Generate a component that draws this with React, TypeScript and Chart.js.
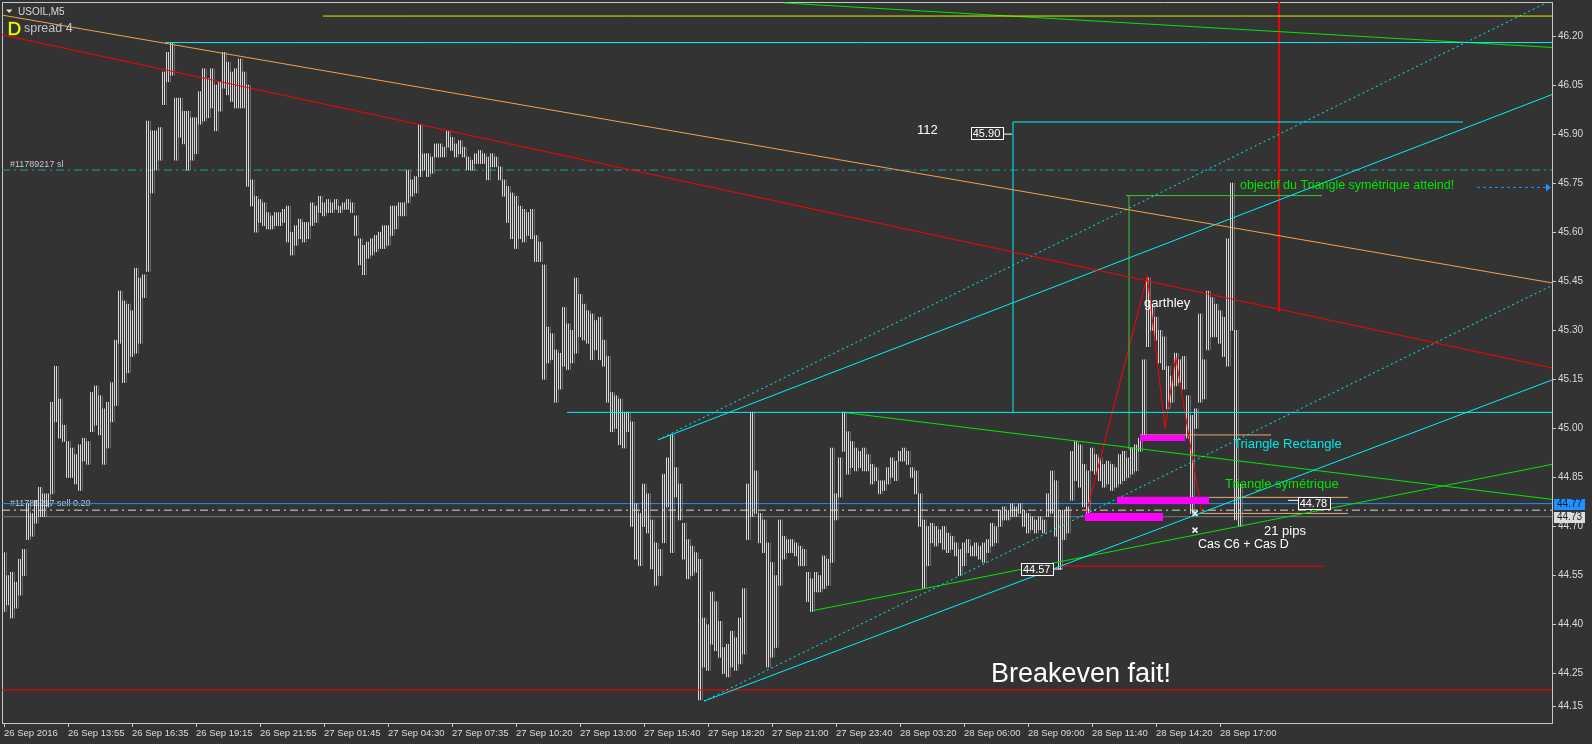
import React, { useEffect, useRef } from 'react';
import { Chart, registerables } from 'chart.js';

Chart.register(...registerables);

const FONT = "'Liberation Sans', Arial, sans-serif";

// x axis: 5-minute bar index; one entry of the bar arrays = 2 bars
const xTickBars = [0, 32, 64, 96, 128, 160, 192, 224, 256, 288, 320, 352, 384, 416, 448, 480, 512, 544, 576, 608];
const xTickLabels = [
  '26 Sep 2016', '26 Sep 13:55', '26 Sep 16:35', '26 Sep 19:15', '26 Sep 21:55',
  '27 Sep 01:45', '27 Sep 04:30', '27 Sep 07:35', '27 Sep 10:20', '27 Sep 13:00',
  '27 Sep 15:40', '27 Sep 18:20', '27 Sep 21:00', '27 Sep 23:40', '28 Sep 03:20',
  '28 Sep 06:00', '28 Sep 09:00', '28 Sep 11:40', '28 Sep 14:20', '28 Sep 17:00',
];
const yTickValues = [46.2, 46.05, 45.9, 45.75, 45.6, 45.45, 45.3, 45.15, 45.0, 44.85, 44.7, 44.55, 44.4, 44.25, 44.15];

const barHigh = [
  44.62, 44.55, 44.56, 44.53, 44.60, 44.63, 44.77, 44.74, 44.78, 44.82,
  44.80, 44.80, 45.08, 45.19, 45.09, 45.01, 44.96, 44.94, 44.92, 44.95,
  44.97, 44.96, 45.11, 45.13, 45.10, 45.06, 45.08, 45.14, 45.27, 45.42,
  45.39, 45.38, 45.36, 45.49, 45.46, 45.47, 45.94, 45.91, 45.91, 45.92,
  46.09, 46.15, 46.18, 46.01, 46.01, 45.97, 45.97, 45.95, 45.95, 46.03,
  46.10, 46.07, 46.10, 46.05, 46.06, 46.15, 46.12, 46.09, 46.10, 46.13,
  46.09, 46.05, 45.76, 45.71, 45.70, 45.69, 45.66, 45.65, 45.66, 45.66,
  45.67, 45.68, 45.60, 45.62, 45.64, 45.63, 45.63, 45.69, 45.68, 45.71,
  45.69, 45.70, 45.69, 45.70, 45.68, 45.69, 45.70, 45.69, 45.65, 45.58,
  45.56, 45.57, 45.58, 45.59, 45.60, 45.62, 45.62, 45.68, 45.68, 45.69,
  45.69, 45.79, 45.76, 45.77, 45.93, 45.84, 45.84, 45.83, 45.87, 45.87,
  45.86, 45.91, 45.89, 45.87, 45.88, 45.86, 45.83, 45.82, 45.84, 45.85,
  45.84, 45.83, 45.84, 45.83, 45.80, 45.76, 45.74, 45.72, 45.71, 45.68,
  45.67, 45.66, 45.67, 45.59, 45.57, 45.50, 45.31, 45.29, 45.24, 45.23,
  45.37, 45.32, 45.30, 45.46, 45.41, 45.38, 45.36, 45.35, 45.33, 45.34,
  45.27, 45.22, 45.11, 45.10, 45.09, 45.05, 45.05, 45.02, 44.77, 44.74,
  44.83, 44.80, 44.72, 44.65, 44.63, 44.86, 44.91, 44.98, 44.88, 44.83,
  44.71, 44.66, 44.64, 44.62, 44.60, 44.42, 44.40, 44.50, 44.47, 44.41,
  44.33, 44.34, 44.38, 44.36, 44.42, 44.51, 44.83, 45.05, 44.87, 44.74,
  44.72, 44.65, 44.59, 44.55, 44.72, 44.67, 44.66, 44.66, 44.65, 44.64,
  44.63, 44.56, 44.54, 44.56, 44.55, 44.61, 44.60, 44.94, 44.80, 44.91,
  45.05, 44.99, 44.96, 44.94, 44.93, 44.94, 44.92, 44.89, 44.88, 44.84,
  44.84, 44.88, 44.91, 44.90, 44.93, 44.94, 44.93, 44.88, 44.87, 44.80,
  44.72, 44.70, 44.71, 44.70, 44.69, 44.70, 44.68, 44.67, 44.65, 44.63,
  44.65, 44.66, 44.64, 44.65, 44.64, 44.65, 44.66, 44.71, 44.70, 44.75,
  44.76, 44.75, 44.77, 44.76, 44.77, 44.75, 44.74, 44.73, 44.72, 44.73,
  44.72, 44.80, 44.87, 44.84, 44.75, 44.75, 44.76, 44.93, 44.96, 44.95,
  44.89, 44.87, 44.94, 44.92, 44.91, 44.89, 44.90, 44.89, 44.88, 44.92,
  44.93, 44.91, 44.94, 44.95, 44.97, 45.21, 45.46, 45.38, 45.34, 45.30,
  45.28, 45.19, 45.16, 45.23, 45.21, 45.22, 45.10, 45.04, 45.06, 45.35,
  45.21, 45.42, 45.40, 45.38, 45.36, 45.34, 45.58, 45.75, 45.30, 44.83,
];
const barLow = [
  44.44, 44.46, 44.42, 44.45, 44.49, 44.55, 44.66, 44.67, 44.71, 44.73,
  44.73, 44.76, 44.80, 45.02, 44.97, 44.96, 44.85, 44.85, 44.83, 44.81,
  44.90, 44.89, 44.99, 45.01, 44.98, 44.89, 44.94, 45.02, 45.07, 45.26,
  45.14, 45.17, 45.22, 45.23, 45.26, 45.40, 45.48, 45.72, 45.79, 45.82,
  45.99, 46.06, 46.08, 45.82, 45.89, 45.87, 45.79, 45.82, 45.84, 45.93,
  45.94, 45.95, 45.98, 45.91, 45.97, 46.04, 46.02, 46.00, 45.98, 45.98,
  45.98, 45.74, 45.68, 45.60, 45.63, 45.62, 45.61, 45.61, 45.62, 45.62,
  45.63, 45.57, 45.53, 45.56, 45.58, 45.57, 45.58, 45.62, 45.63, 45.66,
  45.65, 45.66, 45.66, 45.67, 45.66, 45.67, 45.67, 45.66, 45.59, 45.50,
  45.47, 45.52, 45.53, 45.54, 45.55, 45.55, 45.56, 45.59, 45.61, 45.65,
  45.65, 45.69, 45.71, 45.72, 45.77, 45.79, 45.77, 45.78, 45.83, 45.83,
  45.83, 45.86, 45.85, 45.83, 45.84, 45.83, 45.79, 45.79, 45.81, 45.81,
  45.81, 45.76, 45.80, 45.80, 45.76, 45.71, 45.63, 45.58, 45.55, 45.58,
  45.57, 45.59, 45.58, 45.51, 45.51, 45.15, 45.20, 45.21, 45.08, 45.12,
  45.19, 45.18, 45.20, 45.23, 45.28, 45.27, 45.26, 45.21, 45.24, 45.21,
  45.19, 45.08, 44.99, 45.00, 44.95, 44.94, 44.99, 44.70, 44.60, 44.58,
  44.70, 44.68, 44.57, 44.52, 44.55, 44.65, 44.76, 44.62, 44.79, 44.72,
  44.60, 44.54, 44.55, 44.56, 44.17, 44.27, 44.26, 44.34, 44.32, 44.30,
  44.25, 44.24, 44.27, 44.26, 44.28, 44.31, 44.66, 44.73, 44.74, 44.65,
  44.62, 44.27, 44.30, 44.33, 44.52, 44.60, 44.62, 44.62, 44.61, 44.58,
  44.58, 44.47, 44.44, 44.50, 44.50, 44.51, 44.52, 44.59, 44.72, 44.79,
  44.93, 44.86, 44.88, 44.87, 44.88, 44.87, 44.87, 44.83, 44.84, 44.80,
  44.81, 44.83, 44.85, 44.84, 44.90, 44.90, 44.89, 44.85, 44.80, 44.70,
  44.51, 44.58, 44.65, 44.64, 44.65, 44.63, 44.62, 44.63, 44.61, 44.55,
  44.58, 44.62, 44.61, 44.61, 44.60, 44.59, 44.62, 44.64, 44.65, 44.70,
  44.72, 44.72, 44.73, 44.73, 44.74, 44.70, 44.68, 44.69, 44.68, 44.69,
  44.68, 44.73, 44.74, 44.67, 44.57, 44.66, 44.68, 44.78, 44.84, 44.82,
  44.76, 44.74, 44.87, 44.86, 44.84, 44.82, 44.83, 44.81, 44.82, 44.83,
  44.84, 44.85, 44.86, 44.87, 44.93, 44.97, 45.25, 45.30, 45.27, 45.20,
  45.18, 45.06, 45.08, 45.13, 45.14, 45.12, 44.97, 44.74, 45.00, 45.08,
  45.09, 45.24, 45.28, 45.28, 45.26, 45.22, 45.19, 45.30, 44.72, 44.70,
];
const BARS_PER_ENTRY = 2;

// chart objects: [bar index, price] points
const objectLines: { style: string; back?: boolean; pts: [number, number][] }[] = [
  { style: 'teal', back: true, pts: [[-1, 45.79], [774, 45.79]] },
  { style: 'blue', back: true, pts: [[-1, 44.77], [774, 44.77]] },
  { style: 'dashdot', back: true, pts: [[-1, 44.75], [774, 44.75]] },
  { style: 'grey', back: true, pts: [[-1, 44.73], [774, 44.73]] },
  { style: 'orange', pts: [[-2, 46.265], [774, 45.445]] },
  { style: 'red', pts: [[-2, 46.205], [774, 45.185]] },
  { style: 'cyan', pts: [[80.5, 46.18], [774, 46.18]] },
  { style: 'yellow', pts: [[159.5, 46.261], [774, 46.261]] },
  { style: 'lime', pts: [[390, 46.301], [774, 46.165]] },
  { style: 'cyan', pts: [[327, 44.965], [774, 46.021]] },
  { style: 'cyanDot', pts: [[327, 44.965], [774, 46.31]] },
  { style: 'cyanDot', pts: [[350, 44.166], [774, 45.437]] },
  { style: 'cyan', pts: [[350, 44.166], [774, 45.148]] },
  { style: 'cyan', pts: [[281.5, 45.049], [774, 45.049]] },
  { style: 'cyan', pts: [[504.5, 45.049], [504.5, 45.937], [729.5, 45.937]] },
  { style: 'boxGreen', pts: [[562.5, 44.934], [562.5, 45.712]] },
  { style: 'boxGreen', pts: [[561, 45.712], [659, 45.712]] },
  { style: 'lime', pts: [[419.5, 45.049], [774, 44.783]] },
  { style: 'lime', pts: [[404.65, 44.443], [774, 44.89]] },
  { style: 'red', pts: [[637.5, 46.31], [637.5, 45.357]] },
  { style: 'red', pts: [[-1, 44.2], [774, 44.2]] },
  { style: 'red', pts: [[528, 44.579], [659.5, 44.579]] },
  { style: 'red', pts: [[541.35, 44.745], [571.65, 45.466], [580.5, 45.0], [585.85, 45.219], [598.85, 44.74]] },
  { style: 'tan', pts: [[568, 44.98], [633.5, 44.98]] },
  { style: 'tan', pts: [[556.5, 44.789], [672, 44.789]] },
  { style: 'tan', pts: [[598, 44.74], [672, 44.74]] },
  { style: 'blueDot', pts: [[736.5, 45.737], [771, 45.737]] },
  { style: 'white', pts: [[498.5, 45.9], [504, 45.9]] },
  { style: 'white', pts: [[524, 44.57], [529, 44.57]] },
  { style: 'white', pts: [[642, 44.78], [647.5, 44.78]] },
];

const lineStyles: Record<string, { color: string; dash?: number[] }> = {
  teal: { color: '#1a9c9c', dash: [8, 4, 2, 4] },
  blue: { color: '#1e90ff' },
  dashdot: { color: '#d8d8d8', dash: [8, 4, 2, 4] },
  grey: { color: '#7a7a7a' },
  orange: { color: '#f4a050' },
  red: { color: '#ff0000' },
  cyan: { color: '#00f0f8' },
  cyanDot: { color: '#00f0f8', dash: [2, 3] },
  yellow: { color: '#e6e600' },
  lime: { color: '#00e600' },
  boxGreen: { color: '#32cd32' },
  tan: { color: '#e8a878' },
  blueDot: { color: '#1e90ff', dash: [3, 3] },
  white: { color: '#ffffff' },
};

// magenta zones: [bar from, bar to, price low, price high]
const magentaZones: [number, number, number, number][] = [
  [568, 590.5, 44.96, 44.98],
  [556.65, 602.65, 44.769, 44.789],
  [540.65, 579.65, 44.718, 44.74],
];

// text notes: [text, bar, price, colour key, size]
const noteTexts: [string, number, number, string, number][] = [
  ['112', 456.5, 45.9125, 'white', 13],
  ['objectif du Triangle symétrique atteind!', 618, 45.743, 'lime', 12.5],
  ['garthley', 570, 45.382, 'white', 13],
  ['Triangle Rectangle', 614.5, 44.952, 'cyan', 13],
  ['Triangle symétrique', 610.5, 44.828, 'lime', 13],
  ['21 pips', 630, 44.686, 'white', 13],
  ['Cas C6 + Cas D', 597, 44.644, 'white', 12.5],
  ['Breakeven fait!', 493.5, 44.248, 'white', 27],
];
const tradeTexts: [string, number, number][] = [
  ['#11789217 sl', 3, 45.806],
  ['#11789217 sell 0.20', 3, 44.769],
];
// boxed price labels: [text, centre bar, centre price]
const boxedLabels: [string, number, number][] = [
  ['45.90', 491.25, 45.903],
  ['44.57', 516.35, 44.57],
  ['44.78', 654.7, 44.773],
];
const crossMarks: [number, number][] = [[595.5, 44.74], [595.5, 44.689]];
const axisPriceTags: [string, number, string, string][] = [
  ['44.77', 44.77, '#1e90ff', '#0b1c30'],
  ['44.73', 44.73, '#dcdcdc', '#202020'],
];

const noteColors: Record<string, string> = { white: '#ffffff', lime: '#00e600', cyan: '#00e8f0' };

const overlayPlugin = {
  id: 'mt4overlay',
  beforeDatasetsDraw(chart: any) {
    const { ctx, chartArea: a, scales } = chart;
    ctx.save();
    ctx.strokeStyle = '#c8c8c8';
    ctx.lineWidth = 1;
    ctx.beginPath();
    ctx.moveTo(a.left + 0.5, a.bottom);
    ctx.lineTo(a.left + 0.5, a.top + 0.5);
    ctx.lineTo(a.right, a.top + 0.5);
    ctx.stroke();
    ctx.font = `9px ${FONT}`;
    ctx.fillStyle = '#c4c8cc';
    ctx.textBaseline = 'middle';
    ctx.textAlign = 'left';
    tradeTexts.forEach(([t, b, p]) => {
      ctx.fillText(t, scales.x.getPixelForValue(b), scales.y.getPixelForValue(p));
    });
    ctx.restore();
  },
  afterDatasetsDraw(chart: any) {
    const { ctx, chartArea: a, scales } = chart;
    const X = (b: number) => scales.x.getPixelForValue(b);
    const Y = (p: number) => scales.y.getPixelForValue(p);
    ctx.save();
    ctx.beginPath();
    ctx.rect(a.left, a.top, a.right - a.left, a.bottom - a.top);
    ctx.clip();
    // magenta zones
    ctx.fillStyle = '#ff00ff';
    magentaZones.forEach(([b1, b2, p1, p2]) => {
      const x1 = Math.round(X(b1));
      const x2 = Math.round(X(b2));
      const y1 = Math.round(Y(p2));
      const y2 = Math.round(Y(p1));
      ctx.fillRect(x1, y1, x2 - x1, y2 - y1);
    });
    // notes
    ctx.textAlign = 'left';
    ctx.textBaseline = 'middle';
    noteTexts.forEach(([t, b, p, c, s]) => {
      ctx.font = `${s}px ${FONT}`;
      ctx.fillStyle = noteColors[c];
      ctx.fillText(t, X(b), Y(p));
    });
    // boxed labels
    ctx.font = `11px ${FONT}`;
    ctx.textAlign = 'center';
    boxedLabels.forEach(([t, b, p]) => {
      const cx = X(b);
      const cy = Y(p);
      const w = ctx.measureText(t).width + 4;
      ctx.fillStyle = '#333333';
      ctx.fillRect(Math.round(cx - w / 2), Math.round(cy - 6), Math.round(w), 12);
      ctx.strokeStyle = '#ffffff';
      ctx.lineWidth = 1;
      ctx.strokeRect(Math.round(cx - w / 2) + 0.5, Math.round(cy - 6) + 0.5, Math.round(w), 12);
      ctx.fillStyle = '#ffffff';
      ctx.fillText(t, cx, cy + 1);
    });
    // crosses
    ctx.strokeStyle = '#f0f0f0';
    ctx.lineWidth = 1.6;
    crossMarks.forEach(([b, p]) => {
      const cx = X(b);
      const cy = Y(p);
      ctx.beginPath();
      ctx.moveTo(cx - 2.5, cy - 2.5);
      ctx.lineTo(cx + 2.5, cy + 2.5);
      ctx.moveTo(cx + 2.5, cy - 2.5);
      ctx.lineTo(cx - 2.5, cy + 2.5);
      ctx.stroke();
    });
    // arrow head of dotted blue line
    const ay = Y(45.737);
    const ax = X(771);
    ctx.fillStyle = '#1e90ff';
    ctx.beginPath();
    ctx.moveTo(ax, ay - 4);
    ctx.lineTo(ax + 5, ay);
    ctx.lineTo(ax, ay + 4);
    ctx.closePath();
    ctx.fill();
    ctx.restore();

    // window header texts
    ctx.save();
    ctx.fillStyle = '#e0e0e0';
    ctx.beginPath();
    ctx.moveTo(6, 9.5);
    ctx.lineTo(12.5, 9.5);
    ctx.lineTo(9.25, 13);
    ctx.closePath();
    ctx.fill();
    ctx.font = `10px ${FONT}`;
    ctx.textBaseline = 'alphabetic';
    ctx.textAlign = 'left';
    ctx.fillStyle = '#dcdcdc';
    ctx.fillText('USOIL,M5', 18, 14.5);
    ctx.font = `19px ${FONT}`;
    ctx.lineWidth = 1;
    ctx.strokeStyle = '#5a8a00';
    ctx.strokeText('D', 7.5, 34.5);
    ctx.fillStyle = '#ffff00';
    ctx.fillText('D', 7.5, 34.5);
    ctx.font = `12.5px ${FONT}`;
    ctx.fillStyle = '#bfc4cc';
    ctx.fillText('spread 4', 24, 32);
    ctx.restore();
  },
  afterDraw(chart: any) {
    const { ctx, chartArea: a, scales } = chart;
    ctx.save();
    ctx.font = `10px ${FONT}`;
    ctx.textBaseline = 'middle';
    ctx.textAlign = 'left';
    axisPriceTags.forEach(([t, p, bg, fg]) => {
      const cy = Math.round(scales.y.getPixelForValue(p));
      ctx.fillStyle = bg;
      ctx.fillRect(a.right + 2, cy - 5, 31, 11);
      ctx.fillStyle = fg;
      ctx.fillText(t, a.right + 5, cy + 0.5);
    });
    ctx.restore();
  },
};

export default function App() {
  const ref = useRef<HTMLCanvasElement | null>(null);
  useEffect(() => {
    if (!ref.current) return;
    // vertical hatching: 1px light line every 2px, like MT4 bar charts
    const pc = document.createElement('canvas');
    pc.width = 2;
    pc.height = 1;
    const pctx = pc.getContext('2d')!;
    pctx.fillStyle = '#d8d8d8';
    pctx.fillRect(0, 0, 1, 1);
    const hatch = ref.current.getContext('2d')!.createPattern(pc, 'repeat');

    const barData = barHigh.map((h, k) => ({ x: k * BARS_PER_ENTRY, y: [barLow[k], h] }));
    const lineSets = objectLines.map((l) => {
      const st = lineStyles[l.style];
      return {
        type: 'line' as const,
        data: l.pts.map(([x, y]) => ({ x, y })),
        borderColor: st.color,
        borderWidth: 1,
        borderDash: st.dash || [],
        pointRadius: 0,
        pointHoverRadius: 0,
        fill: false,
        tension: 0,
        order: l.back ? 10 : 1,
      };
    });
    const chart = new Chart(ref.current, {
      type: 'bar',
      data: {
        datasets: [
          {
            type: 'bar',
            data: barData as any,
            backgroundColor: hatch,
            borderWidth: 0,
            barThickness: 4,
            order: 5,
          } as any,
          ...(lineSets as any[]),
        ],
      },
      options: {
        animation: false,
        responsive: false,
        devicePixelRatio: 1,
        events: [],
        layout: { padding: { left: 2, top: 2, right: 0, bottom: 0 } },
        plugins: { legend: { display: false }, tooltip: { enabled: false } },
        scales: {
          x: {
            type: 'linear',
            position: 'bottom',
            min: -1,
            max: 774,
            offset: false,
            bounds: 'data',
            grid: { display: true, drawOnChartArea: false, drawTicks: true, tickLength: 4, color: '#c8c8c8', offset: false },
            border: { display: true, color: '#c8c8c8', width: 1 },
            ticks: {
              autoSkip: false,
              maxRotation: 0,
              minRotation: 0,
              align: 'start',
              padding: 1,
              color: '#dcdcdc',
              font: { family: FONT, size: 9.5 },
              callback: (_v: any, i: number) => xTickLabels[i] ?? '',
            },
            afterBuildTicks: (s: any) => {
              s.ticks = xTickBars.map((v) => ({ value: v }));
            },
            afterFit: (s: any) => {
              s.height = 21;
              s.paddingLeft = 0;
              s.paddingRight = 0;
              s.paddingTop = 0;
              s.paddingBottom = 0;
            },
          } as any,
          y: {
            type: 'linear',
            position: 'right',
            min: 44.0991,
            max: 46.304,
            beginAtZero: false,
            bounds: 'data',
            grid: { display: true, drawOnChartArea: false, drawTicks: true, tickLength: 4, color: '#c8c8c8' },
            border: { display: true, color: '#c8c8c8', width: 1 },
            ticks: {
              padding: 2,
              color: '#dcdcdc',
              font: { family: FONT, size: 10 },
              callback: (v: any) => Number(v).toFixed(2),
            },
            afterBuildTicks: (s: any) => {
              s.ticks = yTickValues.map((v) => ({ value: v }));
            },
            afterFit: (s: any) => {
              s.width = 40;
              s.paddingLeft = 0;
              s.paddingRight = 0;
              s.paddingTop = 0;
              s.paddingBottom = 0;
            },
          } as any,
        },
      },
      plugins: [overlayPlugin as any],
    });
    return () => chart.destroy();
  }, []);
  return (
    <div style={{ position: 'fixed', left: 0, top: 0, width: 1592, height: 744, background: '#333333' }}>
      <canvas ref={ref} width={1592} height={744} style={{ display: 'block', width: 1592, height: 744 }} />
    </div>
  );
}
